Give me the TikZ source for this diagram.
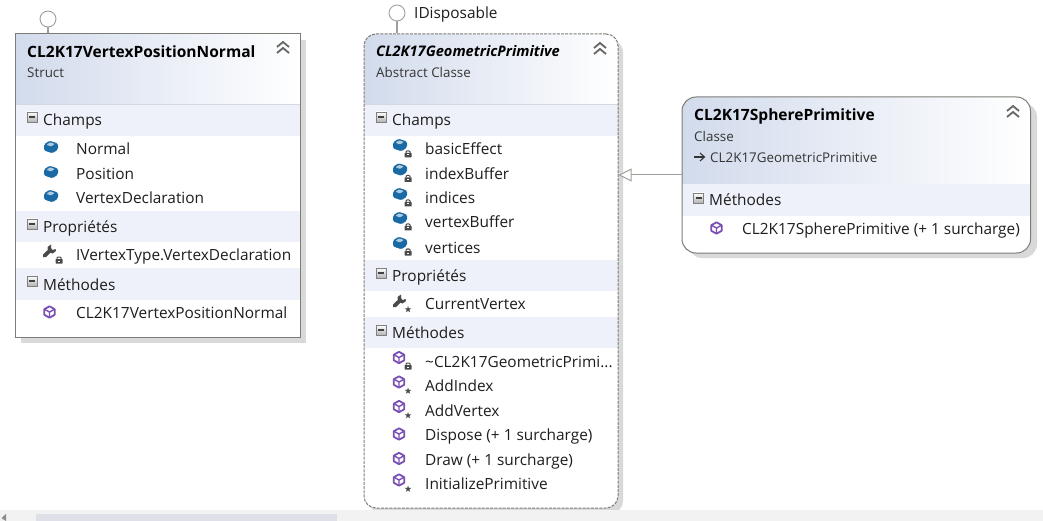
\documentclass[tikz,border=0pt]{standalone}
\usepackage{fontspec}
\setmainfont{Open Sans}
\usetikzlibrary{arrows.meta}
\definecolor{bandc}{HTML}{EEF1F9}
\definecolor{headc}{HTML}{D2DBEC}
\definecolor{shadowc}{HTML}{D9D9D9}
\definecolor{borderc}{HTML}{7D7D77}
\definecolor{linec}{HTML}{A0A09A}
\definecolor{rulec}{HTML}{D5D8DE}
\definecolor{txtc}{HTML}{1E1E1E}
\definecolor{fieldc}{HTML}{1A6BA5}
\definecolor{methc}{HTML}{7A4FB5}
\definecolor{iconc}{HTML}{4A4A4A}
\definecolor{scrollc}{HTML}{F2F2F2}
\definecolor{thumbc}{HTML}{DEDFE7}
\newcommand{\lbl}[5]{\node[lbltext,#4] (#1) at (#2,#3) {#5};}
\tikzset{
  x=1pt,y=-1pt,
  lbltext/.style={anchor=base west,inner sep=0pt,text=txtc},
  titletext/.style={font=\fontsize{15.55}{18}\selectfont\bfseries,text=black},
  ititletext/.style={font=\fontsize{14.6}{17}\selectfont\bfseries\itshape,text=black},
  subtext/.style={font=\fontsize{13.4}{16}\selectfont,text=txtc!90!white},
  rowtext/.style={font=\fontsize{15.4}{18}\selectfont},
  umlbox/.style={rectangle,inner sep=0pt,line width=1pt},
  lollipop/.style={circle,draw=linec,fill=white,line width=.9pt,minimum size=16pt,inner sep=0pt},
  stem/.style={draw=linec,line width=1.2pt},
  pics/fieldicon/.style={code={
    \fill[fieldc,rounded corners=1.5pt] (-7,-2.5) -- (-1.5,-6.3) -- (7,-3.5) -- (7,2.5) -- (1.5,6.3) -- (-7,3.5) -- cycle;
    \fill[white!65!fieldc,rounded corners=.8pt] (-4.5,-2.2) -- (-1,-4.6) -- (3.8,-3) -- (0,-.6) -- cycle;
  }},
  pics/methicon/.style={code={
    \draw[methc,line width=1.8pt,fill=white,line join=round] (0,-5.7) -- (5.2,-2.8) -- (5.2,2.8) -- (0,5.7) -- (-5.2,2.8) -- (-5.2,-2.8) -- cycle;
    \draw[methc,line width=1.4pt] (-4.8,-2.6) -- (0,0) -- (4.8,-2.6) (0,0) -- (0,5);
  }},
  pics/wrenchicon/.style={code={
    \draw[iconc,line width=3.8pt,line cap=round] (-4.5,4.8) -- (1,-.5);
    \fill[iconc] (2,-6.5) -- (-1.5,-4) -- (-1,1) -- (3.5,2.5) -- (7,0) -- (6.5,-2) -- (3.5,-1) -- (2,-3) -- cycle;
  }},
  pics/lockicon/.style={code={
    \fill[iconc,rounded corners=.5pt] (-3.5,-1) rectangle (3.5,3.5);
    \draw[iconc,line width=1pt] (-2,-1) -- (-2,-2.2) -- (-1,-3) -- (1,-3) -- (2,-2.2) -- (2,-1);
    \fill[white] (-1,.5) rectangle (1,1.5);
  }},
  pics/staricon/.style={code={
    \fill[iconc] (0,-3.5) -- (.8,-1.1) -- (3.3,-1.1) -- (1.3,.4) -- (2.1,2.8) -- (0,1.4) -- (-2.1,2.8) -- (-1.3,.4) -- (-3.3,-1.1) -- (-.8,-1.1) -- cycle;
  }},
  pics/minusicon/.style={code={
    \shade[top color=white,bottom color=black!30] (-5,-5) rectangle (5,5);
    \draw[black!50,line width=.7pt] (-5,-5) rectangle (5,5);
    \fill[black!75] (-3,-1) rectangle (3,1);
  }},
  pics/chevronicon/.style={code={
    \draw[black!60,line width=1.8pt] (-6,-1) -- (0,-6) -- (6,-1);
    \draw[black!60,line width=1.8pt] (-6,5) -- (0,0) -- (6,5);
  }},
  pics/inheritsicon/.style={code={
    \draw[black!80,line width=1.1pt] (-6,0) -- (4,0);
    \draw[black!80,line width=1.1pt] (0,-4) -- (4.5,0) -- (0,4);
  }},
}
\begin{document}
\begin{tikzpicture}
\useasboundingbox (0,0) rectangle (1043,521);
\fill[white] (0,0) rectangle (1043,521);

% ---- shadows
\fill[shadowc] (21,40) rectangle (306,343);
\fill[shadowc,rounded corners=12pt] (369,40) rectangle (623,513);
\fill[shadowc,rounded corners=14pt] (688,103) rectangle (1037,258);

% ---- scrollbar
\fill[scrollc] (0,510) rectangle (1043,521);
\fill[thumbc] (36,514) rectangle (337,521);
\fill[black!45] (6,514) -- (1.5,518) -- (6,521) -- cycle;

% ---- box 1
\fill[white] (15,34) rectangle (300,337);
\shade[left color=headc,right color=white] (15,34) rectangle (300,104);
\draw[rulec] (15,104.5) -- (300,104.5);
\fill[bandc] (15,105) rectangle (300,136);
\fill[bandc] (15,211) rectangle (300,242);
\fill[bandc] (15,268) rectangle (300,300);

% ---- box 2
\begin{scope}
\clip[rounded corners=12pt] (364,34) rectangle (618,508);
\fill[white] (364,34) rectangle (618,508);
\shade[left color=headc,right color=white] (364,34) rectangle (618,104);
\draw[rulec] (364,104.5) -- (618,104.5);
\fill[bandc] (364,105) rectangle (618,136);
\fill[bandc] (364,260) rectangle (618,291);
\fill[bandc] (364,317) rectangle (618,348);
\end{scope}

% ---- box 3
\begin{scope}
\clip[rounded corners=14pt] (682,97) rectangle (1030.5,253);
\fill[white] (682,97) rectangle (1030.5,253);
\shade[left color=headc,right color=white] (682,97) rectangle (1030.5,184);
\draw[rulec] (682,184) -- (1030.5,184);
\fill[bandc] (682,184.5) rectangle (1030.5,216);
\end{scope}

% ---- box outlines
\node[umlbox,draw=borderc,minimum width=285pt,minimum height=303pt] (vertexbox) at (157.5,185.5) {};
\node[umlbox,draw=borderc,dash pattern=on 3pt off 1.2pt,rounded corners=12pt,minimum width=254pt,minimum height=474pt] (geobox) at (491,271) {};
\node[umlbox,draw=borderc,rounded corners=14pt,minimum width=348.5pt,minimum height=156pt] (spherebox) at (856.25,175) {};

% ---- lollipops
\node[lollipop] (lolA) at (48,19) {};
\node[lollipop] (lolB) at (397,13) {};
\draw[stem] (lolA) -- (lolA |- vertexbox.north);
\draw[stem] (lolB) -- (lolB |- geobox.north);
\lbl{idisp}{414}{19}{rowtext}{IDisposable}

% ---- generalization
\coordinate (tip) at (geobox.east |- spherebox.west);
\draw[draw=linec,line width=1pt,-{Triangle[open,length=13pt,width=13pt,fill=white]}] (spherebox.west) -- (tip);

% ---- box 1 texts
\lbl{aT}{27}{58}{titletext}{CL2K17VertexPositionNormal}
\lbl{aS}{27}{78}{subtext}{Struct}
\pic at (283,48) {chevronicon};
\pic at (32,117) {minusicon};
\lbl{aC}{43}{126}{rowtext}{Champs}
\pic at (51,147) {fieldicon};
\lbl{a1}{76}{155}{rowtext}{Normal}
\pic at (51,172) {fieldicon};
\lbl{a2}{76}{179.5}{rowtext}{Position}
\pic at (51,196) {fieldicon};
\lbl{a3}{76}{203.5}{rowtext}{VertexDeclaration}
\pic at (32,224) {minusicon};
\lbl{aP}{43}{233}{rowtext}{Propriétés}
\pic at (49,251) {wrenchicon};
\pic at (59,260) {lockicon};
\lbl{a4}{76}{261}{rowtext}{IVertexType.VertexDeclaration}
\pic at (32,281) {minusicon};
\lbl{aM}{43}{290}{rowtext}{Méthodes}
\pic at (49.5,312) {methicon};
\lbl{a5}{76}{318}{rowtext}{CL2K17VertexPositionNormal}

% ---- box 2 texts
\lbl{bT}{376}{57}{ititletext}{CL2K17GeometricPrimitive}
\lbl{bS}{376}{78}{subtext}{Abstract Classe}
\pic at (600,49) {chevronicon};
\pic at (381,117) {minusicon};
\lbl{bC}{392}{126}{rowtext}{Champs}
\foreach \yy/\nm/\tx in {155/b1/basicEffect,179.5/b2/indexBuffer,204/b3/indices,228/b4/vertexBuffer,253/b5/vertices}{
  \pic at (400,\yy-10) {fieldicon};
  \pic at (408,\yy-1) {lockicon};
  \lbl{\nm}{425}{\yy}{rowtext}{\tx}
}
\pic at (381,273) {minusicon};
\lbl{bP}{392}{281}{rowtext}{Propriétés}
\pic at (399,301) {wrenchicon};
\pic at (408,309.5) {staricon};
\lbl{b6}{425}{309}{rowtext}{CurrentVertex}
\pic at (381,330) {minusicon};
\lbl{bM}{392}{338}{rowtext}{Méthodes}
\pic at (399,357.5) {methicon};
\pic at (408,366) {lockicon};
\lbl{b7}{425}{367}{rowtext}{\textasciitilde CL2K17GeometricPrimi...}
\pic at (399,382) {methicon};
\pic at (408,391) {staricon};
\lbl{b8}{425}{391}{rowtext}{AddIndex}
\pic at (399,406.5) {methicon};
\pic at (408,415.5) {staricon};
\lbl{b9}{425}{416}{rowtext}{AddVertex}
\pic at (399,434) {methicon};
\lbl{b10}{425}{440}{rowtext}{Dispose (+ 1 surcharge)}
\pic at (399,458.5) {methicon};
\lbl{b11}{425}{465}{rowtext}{Draw (+ 1 surcharge)}
\pic at (399,480) {methicon};
\pic at (408,489) {staricon};
\lbl{b12}{425}{489}{rowtext}{InitializePrimitive}

% ---- box 3 texts
\lbl{cT}{694}{121}{titletext}{CL2K17SpherePrimitive}
\lbl{cS}{694}{142}{subtext}{Classe}
\pic at (700,157) {inheritsicon};
\lbl{cI}{710}{163}{subtext}{CL2K17GeometricPrimitive}
\pic at (1013,112) {chevronicon};
\pic at (698.5,198) {minusicon};
\lbl{cM}{709}{206}{rowtext}{Méthodes}
\pic at (716.5,228) {methicon};
\lbl{c1}{742}{235}{rowtext}{CL2K17SpherePrimitive (+ 1 surcharge)}
\end{tikzpicture}
\end{document}
